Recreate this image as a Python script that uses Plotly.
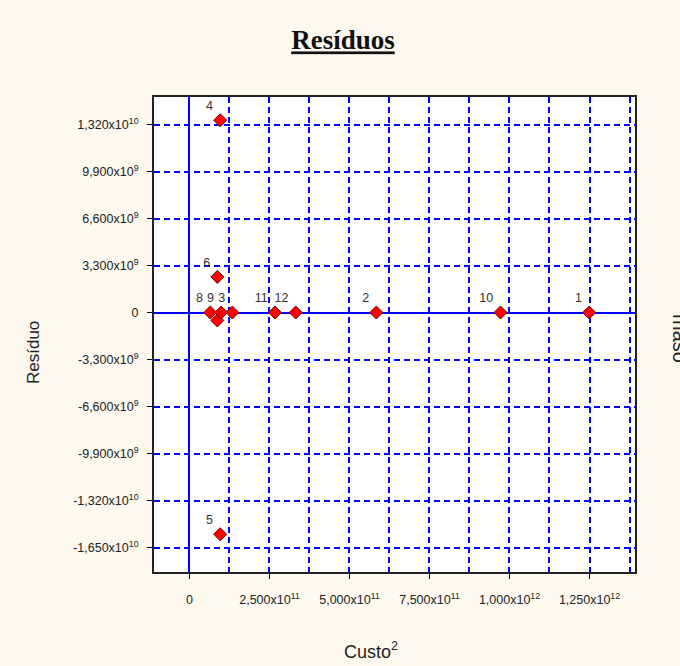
import plotly.graph_objects as go

# Data
point_ids = ["1", "2", "3", "4", "5", "6", "7", "8", "9", "10", "11", "12"]
point_labels = ["1", "2", "3", "4", "5", "6", "", "8", "9", "10", "11", "12"]
custo2 = [1.249e12, 5.84e11, 1.34e11, 9.6e10, 9.6e10, 8.7e10, 8.7e10, 6.5e10, 9.9e10, 9.72e11, 2.67e11, 3.32e11]
residuo = [0.0, 0.0, 0.0, 1.35e10, -1.557e10, 2.5e9, -5.6e8, 0.0, 0.0, 0.0, 0.0, 0.0]

x_tickvals = [0, 2.5e11, 5.0e11, 7.5e11, 1.0e12, 1.25e12]
x_ticktext = ["0", "2,500x10<sup>11</sup>", "5,000x10<sup>11</sup>", "7,500x10<sup>11</sup>",
              "1,000x10<sup>12</sup>", "1,250x10<sup>12</sup>"]
y_tickvals = [1.32e10, 9.9e9, 6.6e9, 3.3e9, 0, -3.3e9, -6.6e9, -9.9e9, -1.32e10, -1.65e10]
y_ticktext = ["1,320x10<sup>10</sup>", "9,900x10<sup>9</sup>", "6,600x10<sup>9</sup>", "3,300x10<sup>9</sup>",
              "0", "-3,300x10<sup>9</sup>", "-6,600x10<sup>9</sup>", "-9,900x10<sup>9</sup>",
              "-1,320x10<sup>10</sup>", "-1,650x10<sup>10</sup>"]

BG = "#FDF9EE"
GRID = "#0000FF"
FONT = "Liberation Sans, Arial"
DASH = "6px,4px"

fig = go.Figure()
fig.add_trace(go.Scatter(
    x=custo2, y=residuo, mode="markers+text",
    text=point_labels, textposition="top left",
    textfont=dict(family=FONT, size=12.5, color="#333333"),
    marker=dict(symbol="diamond", size=10, color="#FF0000",
                line=dict(color="#6A0000", width=1)),
    cliponaxis=False, hoverinfo="x+y", showlegend=False,
))

L, R, T, B = 154, 45, 97, 94
W, H = 680, 666
pw, ph = W - L - R, H - T - B

def px_x(px):
    return (px - L) / pw

def px_y(py):
    return (H - B - py) / ph

fig.update_layout(
    width=W, height=H,
    margin=dict(l=L, r=R, t=T, b=B),
    paper_bgcolor=BG, plot_bgcolor="white",
    font=dict(family=FONT, color="#222222"),
    title=dict(text="<u><b>Resíduos</b></u>", x=343 / W, xanchor="center",
               y=1 - 40 / H, yanchor="middle", xref="container", yref="container",
               font=dict(family="Liberation Serif, Times New Roman", size=27, color="#111111")),
    xaxis=dict(
        range=[-1.109e11, 1.3922e12],
        tickmode="array", tickvals=x_tickvals, ticktext=x_ticktext,
        tickfont=dict(size=12.5, color="#222222"),
        ticks="outside", ticklen=5, tickcolor="black", ticklabelstandoff=10,
        showgrid=True, gridcolor=GRID, griddash=DASH, gridwidth=2,
        minor=dict(dtick=1.25e11, tick0=0, showgrid=True, gridcolor=GRID,
                   griddash=DASH, gridwidth=2, ticks=""),
        zeroline=True, zerolinecolor=GRID, zerolinewidth=2,
        showline=True, linecolor="#222222", linewidth=2, mirror=True,
    ),
    yaxis=dict(
        range=[-1.822e10, 1.5131e10],
        tickmode="array", tickvals=y_tickvals, ticktext=y_ticktext,
        tickfont=dict(size=12.5, color="#222222"),
        ticks="outside", ticklen=5, tickcolor="black", ticklabelstandoff=6,
        showgrid=True, gridcolor=GRID, griddash=DASH, gridwidth=2,
        zeroline=True, zerolinecolor=GRID, zerolinewidth=2,
        showline=True, linecolor="#222222", linewidth=2, mirror=True,
    ),
)

fig.add_annotation(text="Resíduo", xref="paper", yref="paper",
                   x=px_x(33), y=px_y(353), xanchor="center", yanchor="middle",
                   showarrow=False, textangle=-90,
                   font=dict(family=FONT, size=17, color="#222222"))
fig.add_annotation(text="Custo<sup>2</sup>", xref="paper", yref="paper",
                   x=px_x(371), y=px_y(650), xanchor="center", yanchor="middle",
                   showarrow=False,
                   font=dict(family=FONT, size=18, color="#222222"))
fig.add_annotation(text="maso", xref="paper", yref="paper",
                   x=px_x(680), y=px_y(338), xanchor="center", yanchor="middle",
                   showarrow=False, textangle=90,
                   font=dict(family=FONT, size=20, color="#222222"))

fig.write_html(
    "out.html",
    config={"displayModeBar": False},
    post_script="document.body.style.margin='0';document.body.style.background='%s';" % BG,
)
